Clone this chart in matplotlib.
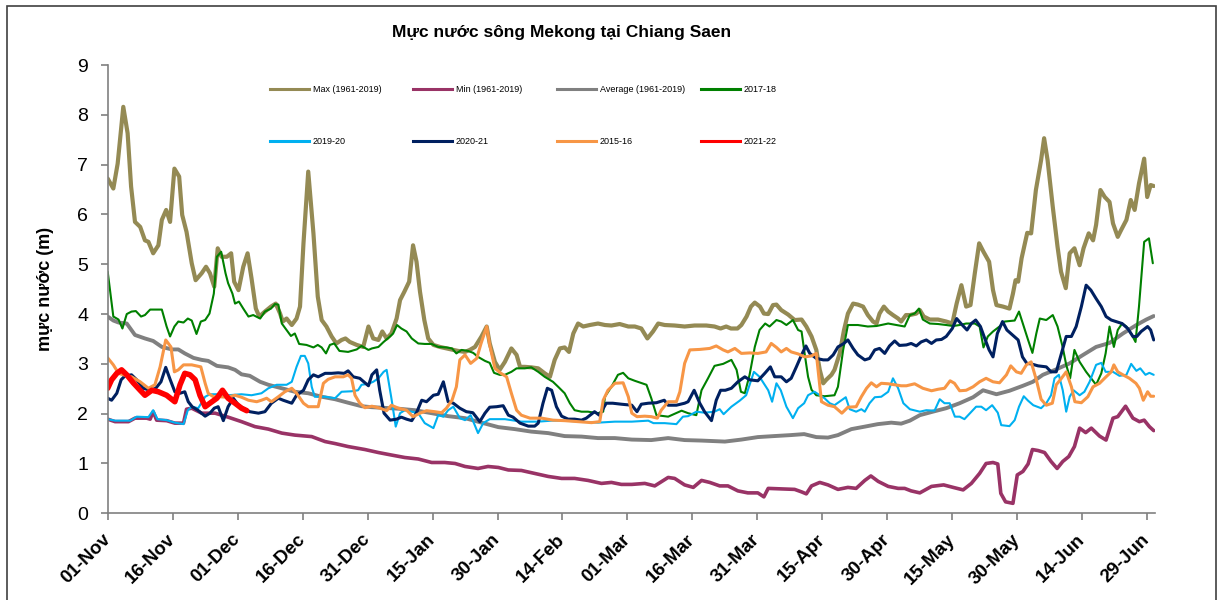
import matplotlib
matplotlib.use("Agg")
import matplotlib.pyplot as plt
from matplotlib.lines import Line2D
from matplotlib.patches import Rectangle
import numpy as np

plt.rcParams["font.family"] = ["Liberation Sans", "DejaVu Sans"]

###############################################
# DATA, day 0 = 01-Nov
###############################################
tick_days = [0, 15, 30, 45, 60, 75, 90, 105, 120, 135, 150, 165, 180, 195, 210, 225, 240]
tick_labels = ["01-Nov", "16-Nov", "01-Dec", "16-Dec", "31-Dec", "15-Jan", "30-Jan",
               "14-Feb", "01-Mar", "16-Mar", "31-Mar", "15-Apr", "30-Apr", "15-May",
               "30-May", "14-Jun", "29-Jun"]
yticks = [0, 1, 2, 3, 4, 5, 6, 7, 8, 9]

# Max (1961-2019)
max_pts = [(0, 6.72), (1.3, 6.52), (2.3, 7.02), (3.6, 8.16), (4.6, 7.63), (5.4, 6.56), (6.3, 5.85),
           (7.5, 5.75), (8.6, 5.48), (9.4, 5.45), (10.5, 5.22), (11.7, 5.38), (12.5, 5.89), (13.5, 6.09),
           (14.4, 5.85), (15.4, 6.92), (16.5, 6.76), (17.2, 5.99), (18.2, 5.65), (19.4, 5.02), (20.3, 4.68),
           (21.7, 4.82), (22.7, 4.95), (23.6, 4.82), (24.6, 4.55), (25.4, 5.32), (26.3, 5.15), (27.5, 5.15),
           (28.5, 5.22), (29.2, 4.65), (30.2, 4.48), (31.3, 4.95), (32.3, 5.22), (33.2, 4.72), (34.2, 4.11),
           (35, 3.95), (36.3, 4.05), (37.7, 4.15), (38.8, 4.21), (39.8, 4.01), (40.4, 3.85), (41.3, 3.91),
           (42.5, 3.78), (43.6, 3.91), (44.4, 4.15), (45.2, 5.42), (46.3, 6.86), (47.5, 5.62), (48.5, 4.35),
           (49.4, 3.88), (50.5, 3.75), (51.7, 3.55), (52.8, 3.41), (54, 3.48), (54.9, 3.51), (55.9, 3.44),
           (57.5, 3.38), (59, 3.34), (60.2, 3.75), (61.3, 3.51), (62.5, 3.48), (63.4, 3.65), (64.4, 3.51),
           (65.5, 3.61), (66.7, 3.91), (67.5, 4.28), (68.5, 4.45), (69.6, 4.65), (70.5, 5.38), (71.3, 5.05),
           (72.1, 4.45), (73.1, 3.88), (74, 3.51), (75.2, 3.38), (76.7, 3.34), (78.2, 3.31), (79.8, 3.28),
           (80.9, 3.26), (82.5, 3.24), (83.6, 3.28), (84.8, 3.34), (86.3, 3.55), (87.5, 3.75), (88.2, 3.41),
           (89.4, 3.04), (90.5, 2.88), (91.7, 3.04), (93.2, 3.31), (94.4, 3.18), (95.2, 2.94), (96.3, 2.94),
           (97.8, 2.93), (99.4, 2.91), (100.9, 2.81), (102.1, 2.74), (103.2, 3.08), (104.4, 3.31), (105.5, 3.33),
           (106.5, 3.24), (107.5, 3.61), (108.6, 3.81), (109.8, 3.75), (111.3, 3.78), (113.2, 3.81), (114.8, 3.78),
           (116.3, 3.77), (118.2, 3.80), (120.2, 3.75), (121.7, 3.75), (123.2, 3.71), (124.6, 3.51), (125.9, 3.65),
           (127.1, 3.81), (128.6, 3.78), (130.9, 3.77), (133.2, 3.75), (135.5, 3.77), (138.2, 3.77), (140.1, 3.75),
           (141.5, 3.71), (142.8, 3.75), (143.9, 3.71), (145.4, 3.71), (146.3, 3.78), (147.5, 3.95), (148.5, 4.15),
           (149.4, 4.23), (150.6, 4.15), (151.5, 4.01), (152.5, 4.00), (153.6, 4.18), (154.4, 4.19), (155.5, 4.08),
           (157.1, 3.99), (158.6, 3.88), (160.2, 3.89), (161.3, 3.75), (162.5, 3.55), (163.6, 3.28), (164.4, 2.88),
           (165.2, 2.61), (165.9, 2.68), (167.1, 2.78), (167.8, 2.88), (169, 3.21), (170, 3.68), (170.9, 4.01),
           (172.1, 4.21), (173.2, 4.19), (174.4, 4.15), (175.5, 3.98), (176.7, 3.85), (177.5, 3.81), (178.2, 4.01),
           (179.2, 4.15), (180.2, 4.05), (181.3, 3.98), (182.5, 3.91), (183.2, 3.85), (184.3, 3.98), (185.2, 3.98),
           (186.7, 4.01), (187.5, 4.08), (188.4, 3.95), (189.8, 3.89), (191.7, 3.89), (193.6, 3.85), (195, 3.81),
           (196, 4.21), (197.1, 4.58), (198.2, 4.15), (199.2, 4.18), (200.2, 4.82), (201.2, 5.42), (202.2, 5.25),
           (203.5, 5.05), (204.4, 4.48), (205.2, 4.18), (206.7, 4.15), (208.2, 4.11), (209, 4.41), (209.6, 4.68),
           (210.2, 4.65), (211, 5.12), (212.3, 5.63), (213.2, 5.62), (214.3, 6.49), (215.5, 7.09), (216.2, 7.53),
           (217, 7.09), (218.2, 6.15), (219.3, 5.35), (220.1, 4.85), (221.2, 4.52), (222.1, 5.22), (223.2, 5.32),
           (224.4, 4.98), (225.3, 5.32), (226.5, 5.62), (227.5, 5.48), (228.2, 5.79), (229.2, 6.49), (230.2, 6.35),
           (231.3, 6.25), (232.1, 5.82), (233.2, 5.55), (234, 5.69), (235.2, 5.89), (236.2, 6.29), (237.1, 6.09),
           (238.1, 6.62), (239.3, 7.12), (240, 6.35), (240.8, 6.59), (241.5, 6.57)]

# Min (1961-2019)
min_pts = [(0, 1.89), (1.7, 1.84), (4.8, 1.84), (6.3, 1.91), (9, 1.91), (9.8, 1.89), (10.5, 2.04), (11.3, 1.87),
           (13.6, 1.86), (15.5, 1.81), (17.5, 1.81), (18.2, 2.09), (19.4, 2.11), (21.7, 2.01), (24.8, 2.01),
           (27.8, 1.93), (30.9, 1.84), (34, 1.74), (37.1, 1.69), (40.2, 1.61), (43.2, 1.57), (47.1, 1.54),
           (50.2, 1.44), (52.5, 1.40), (55.5, 1.34), (59.4, 1.28), (62.5, 1.22), (65.5, 1.17), (68.6, 1.12),
           (71.7, 1.09), (74.8, 1.02), (77.8, 1.02), (80.2, 1.00), (82.5, 0.94), (85.5, 0.90), (87.8, 0.94),
           (90.2, 0.92), (92.5, 0.87), (95.5, 0.86), (98.6, 0.80), (101.7, 0.74), (104.8, 0.70), (107.8, 0.70),
           (110.9, 0.66), (114, 0.60), (116.3, 0.62), (118.6, 0.58), (121, 0.58), (124, 0.60), (126.3, 0.55),
           (129.4, 0.72), (130.9, 0.70), (133.2, 0.57), (135.2, 0.52), (137.1, 0.66), (139, 0.62), (141.3, 0.55),
           (143.2, 0.55), (145.5, 0.45), (147.8, 0.41), (150.1, 0.41), (151.5, 0.33), (152.5, 0.50), (155.5, 0.49),
           (158.6, 0.48), (160.2, 0.43), (161.3, 0.39), (162.5, 0.55), (164.4, 0.62), (166.3, 0.57), (168.6, 0.48),
           (170.9, 0.52), (172.8, 0.50), (174.8, 0.66), (176.2, 0.75), (177.9, 0.64), (180.2, 0.54), (182.5, 0.50),
           (184, 0.50), (185.5, 0.45), (187.5, 0.41), (190.2, 0.54), (193, 0.57), (195.2, 0.52), (197.5, 0.47),
           (199.4, 0.60), (201.3, 0.80), (202.8, 1.00), (204.4, 1.02), (205.5, 0.99), (206.2, 0.40), (207.3, 0.23),
           (209, 0.20), (210, 0.77), (211.3, 0.84), (212.5, 0.99), (213.5, 1.28), (214.8, 1.26), (216.3, 1.22),
           (217.8, 1.04), (219.2, 0.90), (220.5, 1.04), (221.9, 1.14), (223.2, 1.34), (224.4, 1.71), (225.8, 1.62),
           (227.1, 1.71), (229, 1.55), (230.5, 1.47), (232.1, 1.91), (233.2, 1.94), (235, 2.15), (236.7, 1.91),
           (238.2, 1.84), (239.3, 1.87), (240.5, 1.74), (241.5, 1.66)]

# Average (1961-2019)
avg_pts = [(0, 3.95), (1.3, 3.87), (2.5, 3.83), (4.4, 3.81), (6.3, 3.58), (8.6, 3.51), (10.5, 3.46), (12.5, 3.34),
           (14.8, 3.29), (16.3, 3.29), (17.8, 3.21), (19.8, 3.12), (21.7, 3.08), (23.2, 3.06), (25.2, 2.96),
           (27.8, 2.93), (29.4, 2.88), (30.9, 2.79), (32.8, 2.76), (35.2, 2.64), (37.1, 2.58), (40.2, 2.51),
           (43.2, 2.44), (46.3, 2.41), (49.4, 2.34), (52.5, 2.29), (55.5, 2.22), (58.6, 2.15), (61, 2.13),
           (63.2, 2.12), (67.1, 2.10), (70.9, 2.07), (74.8, 2.01), (78.6, 1.95), (82.5, 1.91), (86.3, 1.82),
           (90.2, 1.73), (94, 1.69), (97.8, 1.64), (101.7, 1.61), (105.5, 1.55), (109.4, 1.54), (113.2, 1.51),
           (117.1, 1.51), (121, 1.48), (125.5, 1.47), (129.4, 1.51), (133.2, 1.47), (137.1, 1.46), (142.5, 1.44),
           (146.3, 1.48), (150.1, 1.53), (153.8, 1.55), (157.7, 1.57), (160.8, 1.59), (163.6, 1.53), (166.3, 1.52),
           (168.6, 1.57), (171.7, 1.69), (174.8, 1.74), (177.8, 1.79), (180.9, 1.82), (183.2, 1.80), (185.2, 1.86),
           (187.5, 1.97), (190.5, 2.04), (193.6, 2.11), (196.7, 2.21), (199.8, 2.33), (202.1, 2.47), (205.2, 2.39),
           (208.2, 2.46), (211.3, 2.56), (213.6, 2.64), (215.9, 2.78), (219, 2.89), (222.1, 3.01), (225.2, 3.18),
           (228.2, 3.34), (231.3, 3.42), (234.4, 3.61), (237.5, 3.78), (239.8, 3.89), (241.5, 3.96)]

# 2017-18
y1718_pts = [(0, 4.85), (1.3, 3.95), (2.5, 3.89), (3.4, 3.71), (4.4, 4.00), (5.5, 4.05), (6.5, 4.06), (7.7, 3.95),
             (8.6, 3.98), (9.8, 4.09), (12.5, 4.09), (13.6, 3.75), (14.4, 3.55), (15.4, 3.75), (16.3, 3.85),
             (17.5, 3.83), (18.5, 3.91), (19.4, 3.87), (20.5, 3.60), (21.5, 3.85), (22.5, 3.88), (23.5, 4.01),
             (24.5, 4.41), (25.2, 5.15), (26.2, 5.25), (27.2, 4.82), (27.8, 4.62), (28.8, 4.41), (29.4, 4.21),
             (30.3, 4.25), (31.3, 4.11), (32.5, 3.95), (33.6, 3.98), (35.2, 3.91), (36.3, 4.05), (37.7, 4.11),
             (38.6, 4.20), (39.4, 4.19), (40.2, 3.81), (41.3, 3.68), (42.3, 3.56), (43.2, 3.61), (44.2, 3.40),
             (45.9, 3.38), (47.5, 3.33), (48.5, 3.38), (49.4, 3.33), (50.4, 3.21), (51.3, 3.38), (52.3, 3.41),
             (53.5, 3.26), (55.5, 3.24), (57.5, 3.29), (58.6, 3.36), (60.2, 3.28), (61, 3.31), (62.5, 3.34),
             (63.7, 3.44), (65.2, 3.55), (65.9, 3.61), (66.8, 3.78), (67.8, 3.71), (69, 3.65), (70.2, 3.51),
             (71.7, 3.41), (73.2, 3.40), (74.8, 3.40), (76.3, 3.34), (78.2, 3.33), (79.5, 3.31), (80.5, 3.21),
             (81.7, 3.28), (83.2, 3.26), (84.4, 3.22), (85.5, 3.14), (87.1, 3.06), (88.2, 3.02), (89.2, 2.82),
             (90.5, 2.78), (91.7, 2.78), (93.2, 2.84), (94.4, 2.91), (96.3, 2.91), (97.8, 2.93), (99.4, 2.84),
             (100.9, 2.74), (102.8, 2.64), (104, 2.54), (105.5, 2.41), (106.7, 2.21), (107.8, 2.07), (109.4, 2.04),
             (110.9, 2.04), (113.2, 2.01), (114.4, 2.04), (114.8, 2.34), (116.3, 2.54), (117.8, 2.78), (119, 2.82),
             (120.2, 2.71), (121.7, 2.66), (124.4, 2.58), (125.5, 2.31), (126.7, 1.97), (129.4, 1.94), (132.5, 2.06),
             (134, 2.01), (135.9, 1.97), (137.1, 2.47), (138.6, 2.71), (140.1, 2.96), (142.1, 3.00), (144, 3.08),
             (145.2, 2.88), (146.2, 2.44), (147.1, 2.41), (148.2, 2.78), (149.4, 3.34), (150.5, 3.68), (151.8, 3.81),
             (152.8, 3.75), (154.4, 3.88), (155.5, 3.85), (156.7, 3.78), (158.2, 3.88), (159.4, 3.68), (160.2, 3.65),
             (160.9, 3.21), (161.7, 2.74), (162.5, 2.48), (163.6, 2.37), (165.5, 2.35), (167.8, 2.37), (168.6, 2.54),
             (169.8, 3.28), (170.9, 3.78), (173.2, 3.78), (175.5, 3.75), (177.5, 3.76), (180.2, 3.81), (182.8, 3.77),
             (184, 3.75), (185.2, 3.98), (186.3, 4.01), (187.3, 4.11), (188.2, 3.89), (189.8, 3.81), (191.7, 3.80),
             (193.6, 3.78), (195.2, 3.76), (196.7, 3.78), (198.2, 3.81), (200.2, 3.81), (201.3, 3.75), (202.2, 3.33),
             (203.2, 3.55), (204.4, 3.65), (205.9, 3.75), (207.1, 3.85), (209.4, 3.87), (210.4, 4.05), (211.5, 3.75),
             (212.5, 3.48), (213.5, 3.22), (214.4, 3.61), (215.2, 3.91), (216.7, 3.88), (218.2, 3.98), (219.3, 3.75),
             (220.5, 3.33), (221.3, 2.98), (222.2, 2.71), (223.2, 3.28), (224.4, 3.04), (225.9, 2.84), (227.3, 2.68),
             (228.2, 2.58), (229.4, 2.81), (230.4, 3.21), (231.3, 3.75), (232.3, 3.34), (233.2, 3.68), (234.2, 3.81),
             (235.2, 3.75), (236.3, 3.61), (237.3, 3.44), (238.1, 4.15), (239.3, 5.45), (240.4, 5.52), (241.3, 5.02)]

# 2019-20
y1920_pts = [(0, 1.89), (1.7, 1.86), (5.2, 1.86), (6.7, 1.94), (9.4, 1.93), (10.5, 2.07), (11.5, 1.89), (13.6, 1.87),
             (15.5, 1.82), (17.5, 1.79), (18.5, 2.07), (19.4, 2.14), (20.9, 2.11), (22.5, 2.34), (23.6, 2.39),
             (25.5, 2.39), (27.8, 2.37), (30.9, 2.39), (33.2, 2.37), (35.5, 2.41), (37.1, 2.51), (39, 2.58),
             (41.3, 2.58), (42.5, 2.64), (43.6, 2.94), (44.6, 3.16), (45.5, 3.16), (46.3, 3.01), (47.1, 2.54),
             (47.8, 2.34), (50.2, 2.34), (52.5, 2.31), (54, 2.44), (56.3, 2.45), (57.8, 2.47), (58.6, 2.58),
             (60.2, 2.60), (61.3, 2.64), (62.5, 2.71), (63.7, 2.84), (64.4, 2.88), (65.5, 2.31), (66.5, 1.74),
             (67.5, 2.01), (68.6, 2.07), (70.2, 2.04), (71.7, 2.01), (73.2, 1.81), (75.2, 1.71), (76.3, 1.97),
             (77.5, 1.94), (78.6, 2.07), (79.8, 2.14), (81.3, 1.91), (82.5, 1.87), (83.8, 1.97), (85.5, 1.61),
             (86.7, 1.81), (88.2, 1.89), (91.7, 1.89), (95.5, 1.84), (99.4, 1.84), (102.5, 1.86), (105.5, 1.86),
             (109.4, 1.84), (113.2, 1.82), (117.1, 1.84), (121, 1.84), (124.8, 1.86), (126, 1.81), (128.6, 1.81),
             (131.3, 1.79), (132.8, 1.94), (134, 1.95), (135.9, 2.04), (137.8, 2.02), (140.1, 2.04), (141.3, 2.09),
             (142.2, 1.99), (144, 2.14), (145.9, 2.26), (147.4, 2.37), (148.2, 2.58), (149.2, 2.84), (150.5, 2.74),
             (151.7, 2.58), (152.5, 2.47), (153.4, 2.24), (154.4, 2.61), (155.4, 2.47), (156.7, 2.14), (158.2, 1.91),
             (159.4, 2.11), (160.8, 2.21), (161.7, 2.37), (163.2, 2.44), (164.4, 2.37), (165.5, 2.31), (166.7, 2.21),
             (167.8, 2.17), (169.4, 2.27), (170.4, 2.33), (171.3, 2.09), (172.8, 2.04), (174, 2.09), (174.8, 2.04),
             (175.9, 2.21), (177.1, 2.33), (178.6, 2.34), (180.2, 2.44), (181.3, 2.71), (182.5, 2.51), (183.7, 2.21),
             (185.2, 2.09), (187.5, 2.04), (189, 2.07), (190.9, 2.06), (192.1, 2.29), (193.2, 2.21), (194.4, 2.21),
             (195.6, 1.94), (196.7, 1.94), (197.8, 1.89), (199.4, 2.04), (200.5, 2.14), (201.7, 2.14), (202.8, 2.07),
             (204.2, 2.17), (205.5, 2.02), (206.3, 1.77), (208.2, 1.75), (209.4, 1.87), (210.4, 2.14), (211.5, 2.35),
             (212.5, 2.26), (213.7, 2.17), (215.5, 2.11), (216.7, 2.21), (217.8, 2.37), (218.6, 2.71), (219.6, 2.78),
             (220.5, 2.47), (221.3, 2.04), (222.1, 2.34), (223, 2.47), (224.4, 2.37), (225.5, 2.44), (226.7, 2.64),
             (228.2, 2.98), (229.4, 3.02), (230.4, 2.84), (232.1, 2.84), (233.6, 2.76), (235.2, 2.78), (236.3, 3.00),
             (237.5, 2.86), (238.4, 2.91), (239.6, 2.78), (240.5, 2.82), (241.5, 2.78)]

# 2020-21
y2021_pts = [(0, 2.31), (0.9, 2.27), (2.1, 2.41), (3.1, 2.68), (4, 2.76), (5.5, 2.78), (6.7, 2.68), (8.2, 2.51),
             (9.8, 2.47), (11.1, 2.51), (12.3, 2.64), (13.4, 2.93), (14.4, 2.69), (15.5, 2.44), (16.7, 2.41),
             (17.8, 2.44), (18.6, 2.24), (19.5, 2.14), (20.8, 2.07), (22.5, 1.95), (23.6, 2.01), (24.6, 2.11),
             (25.5, 2.14), (26.7, 1.86), (27.8, 2.14), (29, 2.31), (30.2, 2.17), (31.3, 2.11), (32.8, 2.04),
             (34.8, 2.01), (36.3, 2.04), (37.8, 2.21), (39.4, 2.31), (40.5, 2.27), (42.5, 2.21), (43.6, 2.37),
             (45.2, 2.47), (46.3, 2.68), (47.5, 2.78), (48.6, 2.74), (50.2, 2.81), (51.7, 2.81), (53.2, 2.82),
             (54.6, 2.81), (55.5, 2.86), (56.7, 2.74), (58.2, 2.71), (59.4, 2.62), (60.2, 2.56), (61, 2.78),
             (62.1, 2.88), (62.8, 2.47), (63.8, 2.01), (65.2, 1.87), (66.7, 1.89), (67.8, 1.93), (69, 1.89),
             (70.2, 1.86), (71.3, 2.02), (72.5, 2.27), (73.6, 2.24), (75.2, 2.37), (76.3, 2.39), (77.5, 2.64),
             (78.6, 2.24), (79.8, 2.21), (81.3, 2.11), (82.8, 2.04), (84.3, 2.02), (85.9, 1.84), (87.1, 2.01),
             (88.2, 2.13), (89.8, 2.14), (91.3, 2.16), (92.5, 1.97), (93.6, 1.93), (95.2, 1.81), (97.1, 1.75),
             (98.6, 1.75), (99.4, 1.81), (100.5, 2.21), (101.5, 2.51), (102.5, 2.47), (103.6, 2.14), (104.8, 1.95),
             (106.3, 1.89), (107.8, 1.89), (109.4, 1.87), (110.5, 1.91), (112.4, 2.04), (113.5, 1.97), (115.1, 2.21),
             (116.6, 2.21), (118.6, 2.19), (121, 2.17), (122.2, 2.04), (123.2, 2.19), (124.8, 2.21), (126.7, 2.22),
             (128.5, 2.27), (129.4, 2.17), (131.3, 2.17), (133.2, 2.21), (134, 2.24), (135.4, 2.47), (136.7, 2.21),
             (137.8, 2.04), (139.4, 1.86), (140.5, 2.27), (141.5, 2.47), (142.6, 2.47), (144, 2.51), (145.5, 2.64),
             (147.1, 2.74), (148.2, 2.68), (150.1, 2.66), (151.7, 2.81), (153, 2.94), (154, 2.74), (155.5, 2.74),
             (156.7, 2.64), (157.8, 2.71), (159, 2.94), (160.2, 3.18), (161.2, 3.36), (162.1, 3.21), (163.6, 3.11),
             (165.2, 3.08), (166.3, 3.08), (167.5, 3.18), (168.6, 3.34), (169.8, 3.40), (170.9, 3.48), (172.1, 3.31),
             (173.2, 3.18), (174.8, 3.08), (175.9, 3.11), (177.1, 3.28), (178.2, 3.31), (179.4, 3.21), (180.5, 3.36),
             (181.7, 3.46), (182.8, 3.37), (184.4, 3.38), (185.5, 3.41), (186.7, 3.36), (187.8, 3.44), (189, 3.48),
             (190.2, 3.41), (191.3, 3.48), (192.5, 3.49), (193.6, 3.55), (195, 3.71), (196, 3.91), (197.3, 3.78),
             (198.4, 3.68), (199.4, 3.81), (200.4, 3.88), (201.5, 3.75), (202.5, 3.51), (203.5, 3.28), (204.4, 3.14),
             (205.4, 3.61), (206.6, 3.85), (207.6, 3.68), (208.9, 3.58), (210.2, 3.48), (211.2, 3.14), (212.2, 3.01),
             (213.2, 3.00), (214.8, 2.96), (216.7, 2.94), (217.8, 2.84), (219, 2.84), (220.2, 3.21), (221.3, 3.55),
             (222.5, 3.55), (223.6, 3.75), (224.8, 4.15), (225.9, 4.58), (227, 4.48), (228.2, 4.31), (229.4, 4.15),
             (230.5, 3.95), (231.7, 3.88), (232.8, 3.85), (234.2, 3.81), (235.5, 3.71), (236.7, 3.55), (237.6, 3.55),
             (238.6, 3.65), (240.1, 3.75), (240.8, 3.68), (241.5, 3.48)]

# 2015-16
y1516_pts = [(0, 3.12), (1.3, 2.98), (2.5, 2.81), (3.6, 2.78), (5.5, 2.74), (7.5, 2.64), (9.4, 2.51), (10.9, 2.58),
             (12.1, 2.94), (13.4, 3.48), (14.6, 3.34), (15.4, 2.84), (16.3, 2.88), (17.5, 2.98), (19.4, 2.98),
             (21.5, 2.94), (22.5, 2.61), (23.2, 2.41), (24.4, 2.34), (25.9, 2.34), (27.5, 2.33), (29.4, 2.37),
             (30.9, 2.33), (32.5, 2.27), (34.4, 2.24), (35.5, 2.27), (36.7, 2.31), (37.8, 2.24), (39.4, 2.34),
             (40.9, 2.44), (42.5, 2.51), (43.6, 2.41), (45.2, 2.21), (46.3, 2.14), (48.6, 2.14), (49.8, 2.61),
             (50.9, 2.69), (52.5, 2.74), (54.4, 2.74), (55.5, 2.78), (56.3, 2.71), (57.1, 2.37), (58.2, 2.21),
             (59.4, 2.12), (61, 2.15), (62.9, 2.11), (64.4, 2.06), (65.5, 2.17), (67.1, 2.11), (69, 2.07),
             (70.5, 1.94), (72.1, 2.01), (73.6, 2.06), (75.5, 2.04), (77.1, 2.02), (78.2, 2.11), (79.5, 2.27),
             (80.5, 2.54), (81.3, 3.08), (82.5, 3.18), (83.8, 3.01), (85.2, 3.11), (86.2, 3.41), (87.5, 3.75),
             (88.2, 3.38), (89.4, 2.91), (90.8, 2.81), (92.1, 2.74), (93.2, 2.41), (94.4, 2.07), (95.5, 1.97),
             (97.5, 1.91), (100.2, 1.91), (102.8, 1.87), (105.5, 1.86), (108.6, 1.84), (111.7, 1.82), (113.6, 1.84),
             (114.4, 2.27), (115.5, 2.47), (117.1, 2.61), (119, 2.62), (120.2, 2.34), (121, 2.01), (122.2, 1.94),
             (124, 1.95), (125.5, 1.94), (126.9, 1.91), (127.8, 2.07), (129.4, 2.24), (131.3, 2.24), (132.1, 2.44),
             (133.2, 3.01), (134.4, 3.28), (136.7, 3.29), (139, 3.31), (140.5, 3.36), (142.1, 3.28), (143.2, 3.24),
             (144.8, 3.31), (146.3, 3.21), (148.2, 3.22), (150.1, 3.21), (152, 3.24), (153.2, 3.41), (154.4, 3.33),
             (155.5, 3.24), (156.7, 3.31), (157.8, 3.24), (159.4, 3.20), (160.9, 3.14), (162.5, 3.16), (163.6, 3.21),
             (164.8, 2.24), (166.3, 2.17), (167.8, 2.14), (169.5, 2.01), (170.9, 2.13), (172.8, 2.14), (174, 2.34),
             (175.2, 2.51), (176.3, 2.62), (177.5, 2.54), (178.6, 2.61), (180.2, 2.60), (181.7, 2.58), (183.2, 2.56),
             (184.4, 2.56), (186.3, 2.60), (188.2, 2.51), (190.2, 2.46), (191.7, 2.49), (193.2, 2.51), (194.5, 2.66),
             (195.5, 2.61), (196.7, 2.46), (198.2, 2.47), (199.8, 2.54), (201.3, 2.64), (202.8, 2.71), (204.4, 2.64),
             (205.9, 2.62), (207.5, 2.78), (208.5, 2.96), (209.8, 2.84), (210.9, 2.81), (212.1, 2.98), (213.2, 3.04),
             (214.4, 2.68), (215.5, 2.29), (216.7, 2.17), (218.1, 2.21), (219, 2.58), (220.2, 2.71), (221.3, 2.84),
             (222.5, 2.54), (223.3, 2.24), (224.8, 2.22), (226.3, 2.34), (227.5, 2.54), (229, 2.61), (230.5, 2.74),
             (231.7, 2.84), (232.3, 2.98), (233.2, 2.84), (234.4, 2.78), (235.9, 2.71), (237.4, 2.61), (238.2, 2.51),
             (239.1, 2.27), (240.1, 2.44), (240.8, 2.35), (241.5, 2.35)]

# 2021-22 (current season, stops early Dec)
y2122_pts = [(0, 2.51), (0.9, 2.68), (2.1, 2.81), (3.2, 2.88), (4.4, 2.78), (5.9, 2.62), (7.5, 2.47), (8.6, 2.37),
             (10.2, 2.47), (11.7, 2.44), (13.6, 2.37), (15.5, 2.24), (16.7, 2.58), (17.8, 2.81), (19, 2.78),
             (20.2, 2.68), (21.3, 2.37), (22.5, 2.14), (23.6, 2.21), (25.2, 2.31), (26.5, 2.47), (27.8, 2.31),
             (29.4, 2.21), (30.9, 2.11), (32.1, 2.06)]

# name, points, colour, width (pt)
series = [
    ("Max (1961-2019)", max_pts, "#948A54", 3.0),
    ("Min (1961-2019)", min_pts, "#993366", 2.6),
    ("Average (1961-2019)", avg_pts, "#808080", 2.8),
    ("2017-18", y1718_pts, "#008000", 1.5),
    ("2019-20", y1920_pts, "#00B0F0", 1.5),
    ("2020-21", y2021_pts, "#002060", 2.2),
    ("2015-16", y1516_pts, "#F79646", 2.2),
    ("2021-22", y2122_pts, "#FF0000", 4.0),
]

###############################################
# FIGURE
###############################################
W, H = 1219, 600
fig = plt.figure(figsize=(W / 100, H / 100), dpi=100)
ax = fig.add_axes([107.7 / W, 1 - 513.3 / H, (1155 - 107.7) / W, (513.3 - 65) / H])

for name, pts, col, lw in series:
    arr = np.array(pts)
    ax.plot(arr[:, 0], arr[:, 1], color=col, lw=lw, label=name,
            solid_joinstyle="round", solid_capstyle="round")

ax.set_xlim(0, 241.8)
ax.set_ylim(0, 9)
ax.set_yticks(yticks)
ax.set_xticks(tick_days)
ax.set_xticklabels(tick_labels, rotation=45, ha="right", va="center",
                   rotation_mode="anchor", fontsize=13.5, fontweight="bold")
ax.tick_params(axis="y", labelsize=14, length=5, width=1.2, color="#808080", pad=9)
ax.tick_params(axis="x", length=5, width=1.2, color="#808080", pad=12)
for s in ["top", "right"]:
    ax.spines[s].set_visible(False)
for s in ["left", "bottom"]:
    ax.spines[s].set_color("#808080")
    ax.spines[s].set_linewidth(1.2)

ax.set_ylabel("mực nước (m)", fontsize=13, fontweight="bold")
ax.yaxis.set_label_coords(-0.051, 0.5)

fig.text(562 / W, 1 - 33 / H, "Mực nước sông Mekong tại Chiang Saen",
         ha="center", va="center", fontsize=12.5, fontweight="bold")

# legend: 4 columns of 2 rows, equal column pitch like excel
col_x = [270, 413, 557, 701]
order = [[0, 4], [1, 5], [2, 6], [3, 7]]
for cx, idx in zip(col_x, order):
    handles = [Line2D([], [], color=series[i][2], lw=2.2) for i in idx]
    labels = [series[i][0] for i in idx]
    fig.legend(handles, labels, loc="upper left", bbox_to_anchor=(cx / W, 1 - 84.8 / H),
               bbox_transform=fig.transFigure, frameon=False, fontsize=6.5,
               handlelength=4.3, handletextpad=0.45, labelspacing=4.75,
               borderpad=0, borderaxespad=0)

# chart area border
fig.patches.append(Rectangle((6.5 / W, -0.05), (1215.5 - 6.5) / W, 1.05 - 6 / H,
                             transform=fig.transFigure, fill=False, ec="#404040", lw=1.2))

fig.savefig("out.png", dpi=100)
